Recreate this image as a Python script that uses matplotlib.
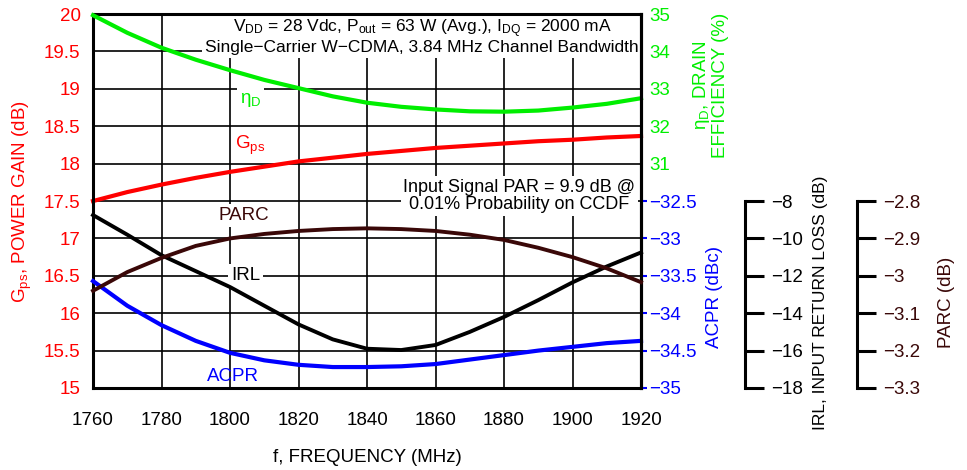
import matplotlib
matplotlib.use("Agg")
import matplotlib.pyplot as plt

plt.rcParams['font.family'] = ['Liberation Sans Narrow', 'Liberation Sans', 'DejaVu Sans']
plt.rcParams['mathtext.default'] = 'regular'

freq = [1760, 1770, 1780, 1790, 1800, 1810, 1820, 1830, 1840, 1850, 1860, 1870, 1880, 1890, 1900, 1910, 1920]
gps = [17.5, 17.62, 17.72, 17.81, 17.89, 17.96, 18.03, 18.08, 18.13, 18.17, 18.21, 18.24, 18.27, 18.3, 18.32, 18.35, 18.37]
eff = [34.97, 34.5, 34.1, 33.78, 33.5, 33.24, 33.02, 32.8, 32.63, 32.52, 32.45, 32.4, 32.39, 32.42, 32.5, 32.6, 32.75]
acpr = [-33.57, -33.9, -34.16, -34.37, -34.53, -34.63, -34.69, -34.72, -34.72, -34.71, -34.68, -34.62, -34.56, -34.5, -34.45, -34.4, -34.37]
irl = [-8.75, -9.8, -10.9, -11.75, -12.6, -13.6, -14.6, -15.4, -15.9, -15.97, -15.7, -15.0, -14.2, -13.3, -12.35, -11.5, -10.75]
parc = [-3.04, -2.99, -2.952, -2.92, -2.9, -2.888, -2.88, -2.875, -2.873, -2.875, -2.88, -2.89, -2.904, -2.925, -2.95, -2.98, -3.017]

RED = '#ff0000'
GREEN = '#00ee00'
BLUE = '#0000ff'
BROWN = '#3a0808'
FS = 13.5

fig = plt.figure(figsize=(9.67, 4.70), dpi=100)
ax = fig.add_axes([0.0962, 0.1745, 0.5667, 0.7955])

ax.set_xlim(1760, 1920)
ax.set_ylim(15, 20)
ax.set_xticks(range(1760, 1921, 20))
ax.set_yticks([15, 15.5, 16, 16.5, 17, 17.5, 18, 18.5, 19, 19.5, 20])
ax.set_yticklabels(['15', '15.5', '16', '16.5', '17', '17.5', '18', '18.5', '19', '19.5', '20'])
ax.grid(True, color='black', linewidth=1.2)
ax.tick_params(axis='both', length=0, labelsize=FS)
ax.tick_params(axis='y', colors=RED, pad=9)
ax.tick_params(axis='x', colors='black', pad=17)
for s in ax.spines.values():
    s.set_linewidth(2.2)
ax.set_xlabel('f, FREQUENCY (MHz)', fontsize=FS, labelpad=15)
ax.set_ylabel('G$_{ps}$, POWER GAIN (dB)', fontsize=FS, color=RED)
ax.yaxis.set_label_coords(-0.108, 0.5)

ax_eff = ax.twinx()
ax_eff.set_ylim(25, 35)
ax_eff.set_yticks([31, 32, 33, 34, 35])
ax_eff.tick_params(axis='y', colors=GREEN, labelsize=FS, length=0, pad=6)
ax_eff.spines['right'].set_linewidth(2.2)

ax_acpr = ax.twinx()
ax_acpr.set_ylim(-35, -30)
ax_acpr.set_yticks([-35, -34.5, -34, -33.5, -33, -32.5])
ax_acpr.set_yticklabels(['\u221235', '\u221234.5', '\u221234', '\u221233.5', '\u221233', '\u221232.5'])
ax_acpr.tick_params(axis='y', colors=BLUE, labelsize=FS, length=4, width=1.5, pad=2)
ax_acpr.spines['right'].set_linewidth(2.2)

ax_irl = ax.twinx()
ax_irl.set_ylim(-18, 2)
ax_irl.spines['right'].set_position(('axes', 1.190))
ax_irl.spines['right'].set_bounds(-18, -8)
ax_irl.spines['right'].set_linewidth(2.2)
ax_irl.set_yticks([-18, -16, -14, -12, -10, -8])
ax_irl.set_yticklabels(['\u221218', '\u221216', '\u221214', '\u221212', '\u221210', '\u22128'])
ax_irl.tick_params(axis='y', colors='black', labelsize=FS, length=14, width=2.2, pad=5)

ax_parc = ax.twinx()
ax_parc.set_ylim(-3.3, -2.3)
ax_parc.spines['right'].set_position(('axes', 1.394))
ax_parc.spines['right'].set_bounds(-3.3, -2.8)
ax_parc.spines['right'].set_linewidth(2.2)
ax_parc.set_yticks([-3.3, -3.2, -3.1, -3.0, -2.9, -2.8])
ax_parc.set_yticklabels(['\u22123.3', '\u22123.2', '\u22123.1', '\u22123', '\u22122.9', '\u22122.8'])
ax_parc.tick_params(axis='y', colors='black', labelsize=FS, length=14, width=2.2, pad=5)
for t in ax_parc.get_yticklabels():
    t.set_color(BROWN)

for a in (ax_eff, ax_acpr, ax_irl, ax_parc):
    for side in ('left', 'top', 'bottom'):
        a.spines[side].set_visible(False)

ax_eff.plot(freq, eff, color=GREEN, linewidth=3, clip_on=False)
ax.plot(freq, gps, color=RED, linewidth=3, clip_on=False)
ax_parc.plot(freq, parc, color=BROWN, linewidth=2.8, clip_on=False)
ax_irl.plot(freq, irl, color='black', linewidth=2.8, clip_on=False)
ax_acpr.plot(freq, acpr, color=BLUE, linewidth=3, clip_on=False)

# labels sit on the main axes, above the grid but under the spines
box = dict(facecolor='white', edgecolor='none', pad=2)
ax.text(1856, 19.70, 'V$_{DD}$ = 28 Vdc, P$_{out}$ = 63 W (Avg.), I$_{DQ}$ = 2000 mA\nSingle\u2212Carrier W\u2212CDMA, 3.84 MHz Channel Bandwidth',
        ha='center', va='center', fontsize=12.5, linespacing=1.0, bbox=box, zorder=2)
ax.text(1884.5, 17.57, 'Input Signal PAR = 9.9 dB @\n0.01% Probability on CCDF',
        ha='center', va='center', fontsize=13, linespacing=1.0, bbox=box, zorder=2)
ax.text(1806, 18.85, '$\\eta_D$', ha='center', va='center', fontsize=FS, color=GREEN, bbox=box, zorder=2)
ax.text(1806, 18.25, 'G$_{ps}$', ha='center', va='center', fontsize=FS, color=RED, bbox=box, zorder=2)
ax.text(1804, 17.31, 'PARC', ha='center', va='center', fontsize=FS, color=BROWN, bbox=box, zorder=2)
ax.text(1804.5, 16.51, 'IRL', ha='center', va='center', fontsize=FS, color='black', bbox=box, zorder=2)
ax.text(1801, 15.16, 'ACPR', ha='center', va='center', fontsize=FS, color=BLUE, zorder=2)

fig.text(0.734, 0.819, '$\\eta_D$, DRAIN\nEFFICIENCY (%)', rotation=90, ha='center', va='center',
         fontsize=FS, color=GREEN, linespacing=1.0, multialignment='center')
fig.text(0.739, 0.368, 'ACPR (dBc)', rotation=90, ha='center', va='center', fontsize=FS, color=BLUE)
fig.text(0.848, 0.355, 'IRL, INPUT RETURN LOSS (dB)', rotation=90, ha='center', va='center', fontsize=12.5, color='black')
fig.text(0.979, 0.357, 'PARC (dB)', rotation=90, ha='center', va='center', fontsize=FS, color=BROWN)

fig.savefig('out.png', dpi=100)
